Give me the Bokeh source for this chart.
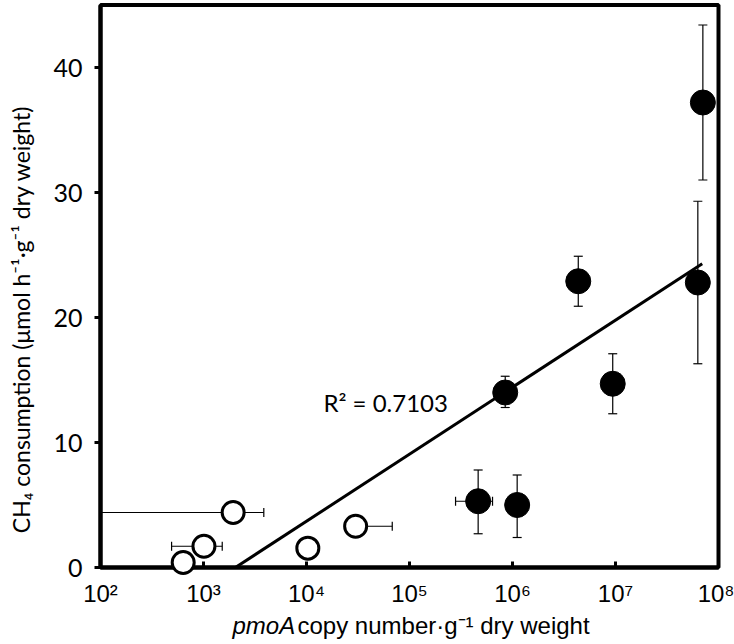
import math
from bokeh.plotting import figure
from bokeh.models import Label, FixedTicker, CustomJSTickFormatter, Range1d, BoxAnnotation
from bokeh.embed import file_html
from bokeh.resources import INLINE

# ---- data ----
# filled circles
filled_x = [7.05e7, 6.3e7, 4.35e6, 9.4e6, 8.5e5, 4.64e5, 1.11e6]
filled_y = [37.2, 22.8, 22.9, 14.7, 14.0, 5.3, 5.0]
filled_y_lo = [31.0, 16.3, 20.9, 12.3, 12.8, 2.7, 2.4]
filled_y_hi = [43.4, 29.3, 24.9, 17.1, 15.3, 7.8, 7.4]
filled_x_lo = [None, None, None, None, None, 2.8e5, None]
filled_x_hi = [None, None, None, None, None, 6.4e5, None]

# open circles
open_x = [635, 1010, 1940, 10300, 30000]
open_y = [0.4, 1.7, 4.4, 1.55, 3.3]
open_x_lo = [None, 490, 1e2, None, 30000]   # third bar runs out to the axis
open_x_hi = [None, 1520, 3850, None, 68000]

# logarithmic trend line (end points) and fit statistic
trend_x = [2040, 6.95e7]
trend_y = [0.0, 24.3]
r2_text = "R\u00b2 = 0.7103"

x_ticks = [1e2, 1e3, 1e4, 1e5, 1e6, 1e7, 1e8]
y_ticks = [0, 10, 20, 30, 40]
x_axis_min, x_axis_max = 1e2, 1e8
y_axis_min, y_axis_max = 0, 45

# ---- layout (pixels) ----
W, H = 734, 644
AX_LEFT_PX, AX_RIGHT_PX = 100, 718      # x = 1e2 and 1e8
AX_BOTTOM_PX, PX_PER_UNIT = 567, 12.5   # y = 0 and pixels per y unit
px_per_dec = (AX_RIGHT_PX - AX_LEFT_PX) / (math.log10(x_axis_max) - math.log10(x_axis_min))
x_lo = 10 ** (math.log10(x_axis_min) - AX_LEFT_PX / px_per_dec)
x_hi = 10 ** (math.log10(x_axis_max) + (W - AX_RIGHT_PX) / px_per_dec)
y_hi = AX_BOTTOM_PX / PX_PER_UNIT
y_lo = -(H - AX_BOTTOM_PX) / PX_PER_UNIT

p = figure(width=W, height=H, x_axis_type="log",
           x_range=Range1d(x_lo, x_hi), y_range=Range1d(y_lo, y_hi),
           output_backend="svg", toolbar_location=None, min_border=0)
p.xgrid.visible = False
p.ygrid.visible = False
p.outline_line_color = None
p.background_fill_color = "white"
p.border_fill_color = "white"

# axes drawn inside the frame at x=1e2 / y=0
p.xaxis.fixed_location = y_axis_min
p.yaxis.fixed_location = x_axis_min
p.xaxis.bounds = (x_axis_min, x_axis_max)
p.yaxis.bounds = (y_axis_min, y_axis_max)

p.xaxis.ticker = FixedTicker(ticks=x_ticks, minor_ticks=[])
p.xaxis.formatter = CustomJSTickFormatter(code="""
const sup = {'0':'\u2070','1':'\u00b9','2':'\u00b2','3':'\u00b3','4':'\u2074',
             '5':'\u2075','6':'\u2076','7':'\u2077','8':'\u2078','9':'\u2079','-':'\u207b'};
const e = Math.round(Math.log10(tick));
return '10' + String(e).split('').map(c => sup[c]).join('');
""")
p.xaxis.axis_line_width = 4
p.xaxis.major_tick_in = 6
p.xaxis.major_tick_out = 0
p.xaxis.major_tick_line_width = 3
p.xaxis.minor_tick_line_color = None
p.xaxis.major_label_text_font = "Liberation Sans"
p.xaxis.major_label_text_font_size = "24px"
p.xaxis.major_label_text_color = "black"
p.xaxis.major_label_standoff = 12

p.yaxis.ticker = FixedTicker(ticks=y_ticks, minor_ticks=[])
p.yaxis.axis_line_width = 4
p.yaxis.major_tick_in = 0
p.yaxis.major_tick_out = 6
p.yaxis.major_tick_line_width = 3
p.yaxis.minor_tick_line_color = None
p.yaxis.major_label_text_font = "Lato"
p.yaxis.major_label_text_font_size = "25px"
p.yaxis.major_label_text_color = "black"
p.yaxis.major_label_standoff = 12

# plot box (top and right sides)
p.add_layout(BoxAnnotation(left=x_axis_min, right=x_axis_max, bottom=y_axis_min,
                           top=y_axis_max, fill_alpha=0, fill_color=None,
                           line_color="black", line_width=4, line_alpha=1))

# trend line
p.line(trend_x, trend_y, line_color="black", line_width=3)

# error bars (vertical) for filled circles
p.segment(x0=filled_x, y0=filled_y_lo, x1=filled_x, y1=filled_y_hi,
          line_color="black", line_width=1.2)
p.scatter(x=filled_x + filled_x, y=filled_y_lo + filled_y_hi, marker="dash",
          size=9, line_color="black", line_width=1.2)

# horizontal error bars
hx0, hx1, hy, capx, capy = [], [], [], [], []
for xs, ys, lo, hi in ((filled_x, filled_y, filled_x_lo, filled_x_hi),
                       (open_x, open_y, open_x_lo, open_x_hi)):
    for x, y, l, h in zip(xs, ys, lo, hi):
        if l is None:
            continue
        hx0.append(l); hx1.append(h); hy.append(y)
        for v in (l, h):
            if x_axis_min < v < x_axis_max and v != x:
                capx.append(v); capy.append(y)
p.segment(x0=hx0, y0=hy, x1=hx1, y1=hy, line_color="black", line_width=1.2)
p.scatter(x=capx, y=capy, marker="dash", angle=math.pi / 2, size=9,
          line_color="black", line_width=1.2)

# markers
p.scatter(open_x, open_y, size=22, fill_color="white", line_color="black",
          line_width=3, level="overlay")
p.scatter(filled_x, filled_y, size=25, fill_color="black", line_color="black",
          line_width=1)

# R^2 annotation
p.add_layout(Label(x=14600, y=13.2, text=r2_text, text_font="Lato",
                   text_font_size="24px", text_color="black",
                   text_align="left", text_baseline="middle"))

# axis titles
p.add_layout(Label(x=20, y=H - 319, x_units="screen", y_units="screen",
                   angle=math.pi / 2, text_align="center", text_baseline="middle",
                   text="CH\u2084 consumption (\u03bcmol h\u207b\u00b9\u00b7g\u207b\u00b9 dry weight)",
                   text_font="Lato", text_font_size="23px", text_color="black"))
p.add_layout(Label(x=232, y=H - 625, x_units="screen", y_units="screen",
                   text_align="left", text_baseline="middle", text="pmoA",
                   text_font="Liberation Sans", text_font_style="italic",
                   text_font_size="24px", text_color="black"))
p.add_layout(Label(x=297, y=H - 625, x_units="screen", y_units="screen",
                   text_align="left", text_baseline="middle",
                   text="copy number\u00b7g\u207b\u00b9 dry weight",
                   text_font="Liberation Sans",
                   text_font_size="24px", text_color="black"))

open("out.html", "w").write(file_html(p, INLINE))
